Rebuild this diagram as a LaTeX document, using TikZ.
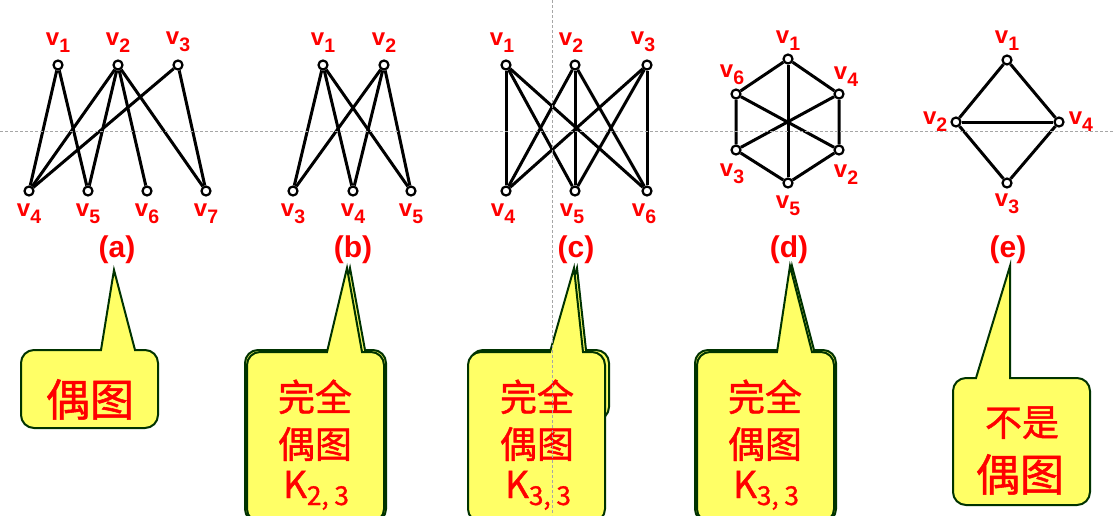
\documentclass[tikz,border=0pt]{standalone}
\usepackage{fontspec}
\setmainfont{Liberation Sans}
\newfontfamily\cjk[FakeBold=1.2]{Noto Sans CJK SC}
\usetikzlibrary{positioning}

\definecolor{bubblefill}{HTML}{FFFF66}
\definecolor{bubbleline}{HTML}{003300}
\definecolor{guidegray}{HTML}{A6A6A6}

\newcommand{\vsub}[1]{v\raisebox{-7pt}{\fontsize{19.5}{19.5}\selectfont #1}}
\newcommand{\ksub}[1]{K\raisebox{-7pt}{\fontsize{26}{26}\selectfont #1}}
% callout: left, right, top, bottom, pointer base left, base right, tip
\newcommand{\bubble}[7]{%
  \filldraw[bubble] (#5,#3) -- (#7) -- (#6,#3) [rounded corners=13pt] -- (#2,#3)
    -- (#2,#4) -- (#1,#4) -- (#1,#3) [sharp corners] -- cycle;}

\begin{document}
\begin{tikzpicture}[x=1pt,y=-1pt]
\tikzstyle{vertex}=[circle,draw,fill=white,line width=2.2pt,inner sep=0pt,minimum size=9pt]
\tikzstyle{edge}=[line width=3pt]
\tikzstyle{vlabel}=[text=red,inner sep=0pt,font=\fontsize{24}{24}\selectfont\bfseries]
\tikzstyle{tag}=[text=red,inner sep=0pt,font=\fontsize{30}{30}\selectfont\bfseries]
\tikzstyle{bubble}=[fill=bubblefill,draw=bubbleline,line width=2pt,line join=miter]
\tikzstyle{bubbletext}=[text=red,inner sep=0pt,anchor=base,font=\cjk\fontsize{37}{37}\selectfont]
\tikzstyle{guide}=[guidegray,line width=0.7pt,dash pattern=on 3pt off 2pt]

\clip (0,0) rectangle (1113,515);
\fill[white] (0,0) rectangle (1113,515);

% graph (a)
\foreach \n/\x in {1/58,2/118,3/178}
  \node[vertex] (a\n) at (\x,65) {};
\foreach \n/\x in {4/29,5/88,6/147,7/206}
  \node[vertex] (a\n) at (\x,191) {};
\foreach \n in {1,2,3}
  \node[vlabel,above=7pt of a\n] (la\n) {\vsub{\n}};
\foreach \n in {4,...,7}
  \node[vlabel,below=7pt of a\n] (la\n) {\vsub{\n}};
\foreach \u/\w in {1/4,1/5,2/4,2/5,2/6,2/7,3/4,3/7}
  \draw[edge] (a\u) -- (a\w);

% graph (b)
\foreach \n/\x in {1/323,2/384}
  \node[vertex] (b\n) at (\x,65) {};
\foreach \n/\x in {3/293,4/353,5/411}
  \node[vertex] (b\n) at (\x,191) {};
\foreach \n in {1,2}
  \node[vlabel,above=7pt of b\n] (lb\n) {\vsub{\n}};
\foreach \n in {3,4,5}
  \node[vlabel,below=7pt of b\n] (lb\n) {\vsub{\n}};
\foreach \u in {1,2}
  \foreach \w in {3,4,5}
    \draw[edge] (b\u) -- (b\w);

% graph (c)
\foreach \n/\x in {1/506,2/575,3/647}
  \node[vertex] (c\n) at (\x,65) {};
\foreach \n/\x in {4/506,5/575,6/647}
  \node[vertex] (c\n) at (\x,191) {};
\foreach \n in {1,2,3}
  \node[vlabel,above=7pt of c\n,xshift=-4pt] (lc\n) {\vsub{\n}};
\foreach \n in {4,5,6}
  \node[vlabel,below=7pt of c\n,xshift=-3pt] (lc\n) {\vsub{\n}};
\foreach \u in {1,2,3}
  \foreach \w in {4,5,6}
    \draw[edge] (c\u) -- (c\w);

% graph (d)
\node[vertex] (d1) at (788,59) {};
\node[vertex] (d4) at (839,94) {};
\node[vertex] (d2) at (839,150) {};
\node[vertex] (d5) at (788,183) {};
\node[vertex] (d3) at (736,150) {};
\node[vertex] (d6) at (736,94) {};
\node[vlabel,above=3pt of d1] (ld1) {\vsub{1}};
\node[vlabel,above=4pt of d6,xshift=-4pt] (ld6) {\vsub{6}};
\node[vlabel,above=2pt of d4,xshift=7pt] (ld4) {\vsub{4}};
\node[vlabel,below=8pt of d3,xshift=-4pt] (ld3) {\vsub{3}};
\node[vlabel,below=9pt of d2,xshift=7pt] (ld2) {\vsub{2}};
\node[vlabel,below=7pt of d5] (ld5) {\vsub{5}};
\draw[edge] (d1) -- (d4) -- (d2) -- (d5) -- (d3) -- (d6) -- (d1);
\draw[edge] (d1) -- (d5);
\draw[edge] (d6) -- (d2);
\draw[edge] (d4) -- (d3);

% graph (e)
\node[vertex] (e1) at (1007,60) {};
\node[vertex] (e2) at (956,122) {};
\node[vertex] (e4) at (1059,122) {};
\node[vertex] (e3) at (1007,183) {};
\node[vlabel,above=4pt of e1] (le1) {\vsub{1}};
\node[vlabel,left=3pt of e2] (le2) {\vsub{2}};
\node[vlabel,right=4pt of e4] (le4) {\vsub{4}};
\node[vlabel,below=5pt of e3] (le3) {\vsub{3}};
\draw[edge] (e1) -- (e2) -- (e3) -- (e4) -- (e1);
\draw[edge] (e2) -- (e4);

% captions
\node[tag] (ta) at (117,250) {(a)};
\node[tag] (tb) at (353,250) {(b)};
\node[tag] (tc) at (576,250) {(c)};
\node[tag] (td) at (789,250) {(d)};
\node[tag] (te) at (1008,250) {(e)};

% callouts
\coordinate (pa) at (114,270);
\coordinate (pb) at (347,268);
\coordinate (pb2) at (350,268);
\coordinate (pc) at (574,268);
\coordinate (pc2) at (577,268);
\coordinate (pd) at (790,266);
\coordinate (pd2) at (792,266);
\coordinate (pe) at (1010,266);

\bubble{21}{158}{350}{428}{101}{135}{pa}
\node[bubbletext,font=\cjk\fontsize{44}{44}\selectfont] (ca) at (90,416) {偶图};

\bubble{245}{386}{350}{522}{329}{365}{pb2}
\bubble{247}{384}{352}{522}{327}{362}{pb}
\node[bubbletext] (cb1) at (315,411) {完全};
\node[bubbletext] (cb2) at (315,458) {偶图};
\node[bubbletext] (cb3) at (316,498) {\ksub{2, 3}};

\bubble{470}{609}{350}{420}{552}{586}{pc2}
\bubble{468}{605}{352}{522}{550}{583}{pc}
\node[bubbletext] (cc1) at (537,411) {完全};
\node[bubbletext] (cc2) at (537,458) {偶图};
\node[bubbletext] (cc3) at (538,498) {\ksub{3, 3}};

\bubble{695}{836}{350}{522}{779}{814}{pd2}
\bubble{697}{834}{352}{522}{777}{812}{pd}
\node[bubbletext] (cd1) at (765,411) {完全};
\node[bubbletext] (cd2) at (765,458) {偶图};
\node[bubbletext] (cd3) at (766,498) {\ksub{3, 3}};

\bubble{953}{1090}{378}{505}{976}{1010}{pe}
\node[bubbletext] (ce1) at (1022,436) {不是};
\node[bubbletext,font=\cjk\fontsize{44}{44}\selectfont] (ce2) at (1020,491) {偶图};

% guides
\draw[guide] (0,131) -- (1113,131);
\draw[guide] (552,0) -- (552,515);
\end{tikzpicture}
\end{document}
